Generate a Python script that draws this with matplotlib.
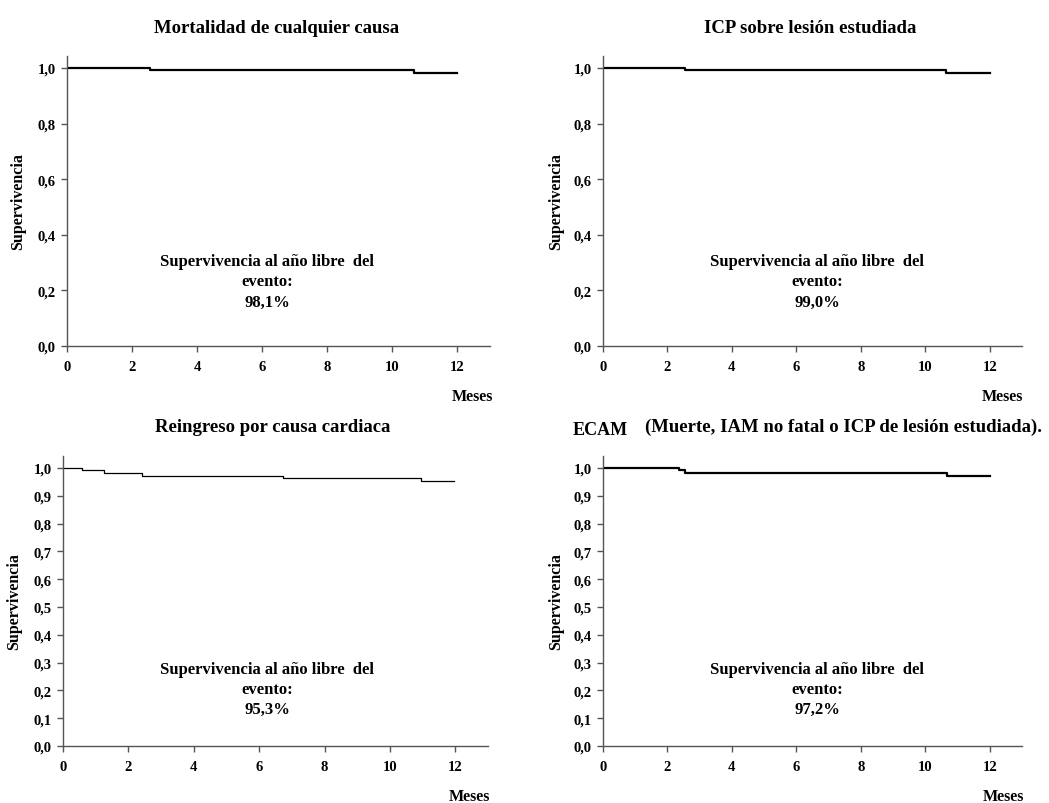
import matplotlib
matplotlib.use("Agg")
import matplotlib.pyplot as plt
import numpy as np

plt.rcParams['font.family'] = ['Liberation Serif', 'DejaVu Serif']
plt.rcParams['font.weight'] = 'bold'

# --- data (months, survival) ---
t_mort = [0, 2.55, 10.65, 12.0]
s_mort = [1.0, 0.992, 0.981, 0.981]

t_icp = [0, 2.55, 10.65, 12.0]
s_icp = [1.0, 0.992, 0.981, 0.981]

t_reing = [0, 0.57, 1.25, 2.42, 6.72, 10.95, 11.97]
s_reing = [1.0, 0.991, 0.982, 0.972, 0.963, 0.954, 0.954]

t_ecam = [0, 2.36, 2.56, 10.66, 12.0]
s_ecam = [1.0, 0.991, 0.981, 0.971, 0.971]

titles = ["Mortalidad de cualquier causa", "ICP sobre lesión estudiada",
          "Reingreso por causa cardiaca", None]
pct = ["98,1%", "99,0%", "95,3%", "97,2%"]

xticks = [0, 2, 4, 6, 8, 10, 12]
yticks_coarse = [0.0, 0.2, 0.4, 0.6, 0.8, 1.0]
yticks_fine = [0.0, 0.1, 0.2, 0.3, 0.4, 0.5, 0.6, 0.7, 0.8, 0.9, 1.0]

fig = plt.figure(figsize=(10.49, 8.04), dpi=100)

# axes boxes in figure fractions
boxes = [
    [0.0639, 0.5684, 0.4032, 0.3607],
    [0.5748, 0.5684, 0.3994, 0.3607],
    [0.0601, 0.0709, 0.4052, 0.3607],
    [0.5748, 0.0709, 0.3994, 0.3607],
]
curves = [(t_mort, s_mort, 1.6), (t_icp, s_icp, 1.6),
          (t_reing, s_reing, 0.9), (t_ecam, s_ecam, 1.6)]
yticks_all = [yticks_coarse, yticks_coarse, yticks_fine, yticks_fine]
note_xy = [(6.15, 0.232), (6.65, 0.232), (6.25, 0.205), (6.65, 0.205)]
ylab_x = [-0.097, -0.093, -0.096, -0.093]
meses_x = [1.007, 1.003, 1.005, 1.005]

for i in range(4):
    ax = fig.add_axes(boxes[i])
    t, s, lw = curves[i]
    ax.step(t, s, where='post', color='black', lw=lw)
    ax.set_xlim(0, 13)
    ax.set_ylim(0, 1.043)
    ax.set_xticks(xticks)
    ax.set_xticklabels([str(x) for x in xticks], fontsize=10.5, fontweight='bold')
    yt = yticks_all[i]
    ax.set_yticks(yt)
    ax.set_yticklabels([("%.1f" % v).replace('.', ',') for v in yt],
                       fontsize=10.5, fontweight='bold')
    for side in ['top', 'right']:
        ax.spines[side].set_visible(False)
    for side in ['left', 'bottom']:
        ax.spines[side].set_color('#555555')
        ax.spines[side].set_linewidth(1.0)
    ax.tick_params(axis='both', direction='out', length=4, width=1,
                   color='#555555')
    ax.tick_params(axis='x', pad=6)
    ax.tick_params(axis='y', pad=4)
    ax.set_ylabel("Supervivencia", fontsize=11.5, fontweight='bold')
    ax.yaxis.set_label_coords(ylab_x[i], 0.5)
    ax.text(meses_x[i], -0.172, "Meses", transform=ax.transAxes,
            ha='right', va='center', fontsize=11.5, fontweight='bold')
    nx, ny = note_xy[i]
    ax.text(nx, ny, "Supervivencia al año libre  del\nevento:\n" + pct[i],
            ha='center', va='center', fontsize=12, fontweight='bold',
            linespacing=1.35)

# titles
fig.text(0.264, 0.965, titles[0], ha='center', va='center', fontsize=13.5,
         fontweight='bold')
fig.text(0.772, 0.965, titles[1], ha='center', va='center', fontsize=13.5,
         fontweight='bold')
fig.text(0.260, 0.468, titles[2], ha='center', va='center', fontsize=13.5,
         fontweight='bold')
fig.text(0.572, 0.464, "ECAM", ha='center', va='center', fontsize=13,
         fontweight='bold')
fig.text(0.615, 0.468, "(Muerte, IAM no fatal o ICP de lesión estudiada).",
         ha='left', va='center', fontsize=13.5, fontweight='bold')

fig.savefig("out.png", dpi=100)
